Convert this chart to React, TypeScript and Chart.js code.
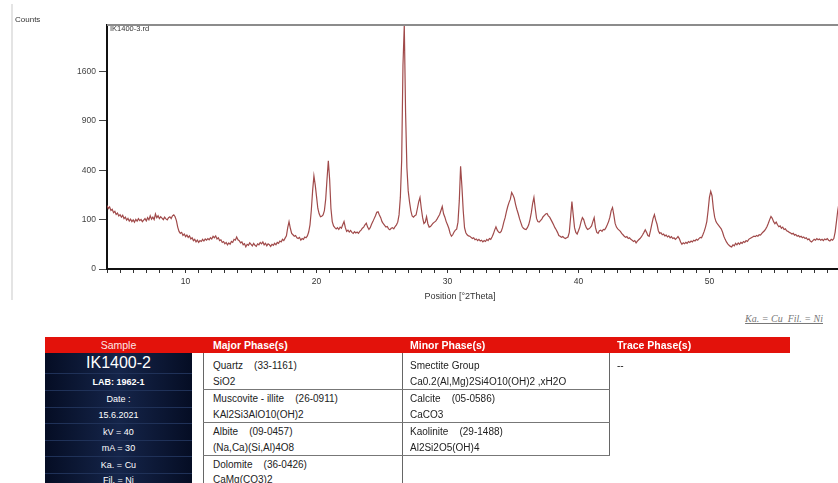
import React, { useEffect, useRef } from 'react';
import { Chart, registerables, LinearScale } from 'chart.js';

Chart.register(...registerables);

// Square-root intensity axis (as used by XRD software)
class SqrtScale extends LinearScale {
  static id = 'sqrt';
  static defaults = {};
  getPixelForValue(value: number) {
    const lo = Math.sqrt(Math.max(0, this.min));
    const hi = Math.sqrt(Math.max(0, this.max));
    const v = Math.sqrt(Math.max(0, value));
    return this.getPixelForDecimal((v - lo) / (hi - lo));
  }
  getValueForPixel(pixel: number) {
    const lo = Math.sqrt(Math.max(0, this.min));
    const hi = Math.sqrt(Math.max(0, this.max));
    const s = lo + this.getDecimalForPixel(pixel) * (hi - lo);
    return s * s;
  }
}
Chart.register(SqrtScale as any);

// Scan parameters (°2Theta)
const scanStart = 4.0;
const scanStep = 0.1;
const xMin = 4.0;
const xMax = 60.2;
const yMax = 2440;
const yTicks = [0, 100, 400, 900, 1600];
const xLabelEvery = 10;

// Counts, one per scan step from 4.0° to 60.2°
const counts = [
  165, 150, 158, 140, 146, 130, 136, 122, 128, 115,
  121, 110, 118, 104, 110, 98, 105, 94, 102, 92,
  99, 90, 101, 94, 104, 96, 101, 92, 98, 104,
  95, 108, 99, 116, 102, 110, 100, 124, 108, 116,
  104, 112, 106, 100, 110, 103, 99, 108, 112, 104,
  116, 120, 112, 96, 72, 58, 52, 55, 46, 50,
  43, 47, 41, 45, 37, 40, 33, 36, 30, 34,
  29, 33, 31, 36, 32, 37, 34, 38, 35, 40,
  37, 44, 40, 45, 37, 40, 33, 35, 29, 31,
  26, 29, 24, 28, 25, 31, 29, 36, 34, 42,
  35, 33, 28, 30, 24, 26, 20, 25, 23, 28,
  25, 22, 27, 23, 21, 26, 24, 29, 26, 30,
  24, 27, 22, 26, 24, 21, 25, 23, 27, 24,
  29, 27, 32, 30, 36, 33, 39, 45, 70, 92,
  68, 52, 48, 44, 46, 40, 38, 41, 34, 38,
  36, 42, 40, 45, 56, 80, 140, 250, 355, 290,
  215, 150, 125, 112, 114, 120, 140, 200, 330, 480,
  330, 150, 92, 76, 70, 66, 70, 64, 72, 68,
  80, 92, 70, 58, 62, 56, 61, 55, 52, 57,
  53, 56, 52, 58, 62, 68, 72, 80, 86, 72,
  64, 70, 82, 92, 104, 116, 132, 134, 120, 108,
  92, 84, 78, 72, 74, 66, 63, 68, 70, 66,
  74, 80, 90, 120, 210, 480, 1700, 2440, 1000, 420,
  250, 185, 140, 115, 110, 116, 120, 150, 185, 210,
  150, 108, 85, 90, 112, 84, 72, 74, 80, 86,
  90, 94, 102, 112, 122, 140, 160, 125, 110, 92,
  80, 68, 52, 44, 48, 56, 62, 65, 90, 190,
  433, 280, 140, 70, 54, 48, 45, 44, 41, 38,
  40, 35, 37, 33, 36, 32, 34, 30, 33, 31,
  36, 33, 38, 36, 42, 50, 62, 73, 62, 56,
  54, 58, 70, 90, 108, 135, 160, 182, 200, 240,
  225, 205, 170, 145, 125, 104, 88, 74, 68, 65,
  64, 70, 80, 100, 130, 175, 210, 150, 105, 92,
  90, 96, 102, 112, 118, 124, 126, 116, 110, 100,
  90, 80, 70, 63, 55, 46, 44, 41, 43, 40,
  38, 40, 42, 55, 110, 187, 120, 70, 55, 50,
  60, 72, 92, 108, 100, 82, 70, 64, 66, 70,
  76, 92, 108, 70, 55, 52, 60, 62, 58, 64,
  63, 70, 80, 92, 110, 140, 155, 120, 85, 72,
  66, 62, 58, 52, 48, 44, 41, 43, 38, 40,
  36, 34, 31, 33, 28, 32, 35, 38, 42, 48,
  55, 63, 55, 46, 44, 60, 82, 105, 121, 98,
  82, 60, 52, 54, 48, 50, 45, 47, 42, 45,
  40, 43, 38, 40, 36, 39, 43, 38, 30, 25,
  28, 26, 29, 27, 31, 29, 32, 30, 34, 32,
  36, 34, 38, 41, 40, 48, 58, 72, 92, 140,
  210, 247, 220, 150, 110, 92, 84, 78, 72, 66,
  56, 44, 36, 30, 26, 23, 21, 20, 24, 22,
  27, 24, 28, 25, 29, 27, 31, 29, 33, 31,
  36, 38, 40, 42, 44, 43, 46, 44, 48, 47,
  52, 56, 60, 66, 74, 86, 100, 113, 105, 92,
  84, 90, 80, 73, 76, 68, 72, 64, 66, 60,
  58, 55, 53, 50, 52, 47, 49, 44, 46, 42,
  44, 40, 42, 38, 40, 35, 37, 32, 30, 33,
  36, 34, 38, 35, 37, 34, 36, 33, 37, 35,
  38, 34, 32, 36, 34, 38, 56, 92, 140, 180,
  200, 160, 120,
];

// Table content
const sampleInfo = ['LAB: 1962-1', 'Date :', '15.6.2021', 'kV = 40', 'mA = 30', 'Ka. = Cu', 'Fil. = Ni'];
const majorPhases = [
  ['Quartz    (33-1161)', 'SiO2'],
  ['Muscovite - illite    (26-0911)', 'KAl2Si3AlO10(OH)2'],
  ['Albite    (09-0457)', '(Na,Ca)(Si,Al)4O8'],
  ['Dolomite    (36-0426)', 'CaMg(CO3)2'],
];
const minorPhases = [
  ['Smectite Group', 'Ca0.2(Al,Mg)2Si4O10(OH)2 ,xH2O'],
  ['Calcite    (05-0586)', 'CaCO3'],
  ['Kaolinite    (29-1488)', 'Al2Si2O5(OH)4'],
];
const tracePhases = ['--'];

const FONT = 'Arial, "Liberation Sans", sans-serif';

const frameTop = {
  id: 'frameTop',
  afterDraw(chart: any) {
    const { ctx, chartArea: a } = chart;
    ctx.save();
    ctx.strokeStyle = '#8c8c8c';
    ctx.lineWidth = 2;
    ctx.beginPath();
    ctx.moveTo(a.left, a.top);
    ctx.lineTo(a.right + 60, a.top);
    ctx.stroke();
    ctx.restore();
  },
};

function XrdChart() {
  const ref = useRef<HTMLCanvasElement | null>(null);
  useEffect(() => {
    if (!ref.current) return;
    const points = counts.map((c, i) => ({ x: +(scanStart + i * scanStep).toFixed(2), y: c }));
    const chart = new Chart(ref.current, {
      type: 'line',
      data: {
        datasets: [
          {
            data: points,
            borderColor: '#a04a4a',
            borderWidth: 1.2,
            pointRadius: 0,
            tension: 0,
            fill: false,
          },
        ],
      },
      options: {
        animation: false,
        responsive: false,
        layout: { padding: { top: 25, right: 57, bottom: 0, left: 0 } },
        plugins: { legend: { display: false }, tooltip: { enabled: false }, title: { display: false } },
        scales: {
          x: {
            type: 'linear',
            min: xMin,
            max: xMax,
            ticks: {
              stepSize: 1,
              autoSkip: false,
              maxRotation: 0,
              padding: 4,
              color: '#333',
              font: { size: 8.5, family: FONT },
              callback: (v: any) => (Math.abs(v % xLabelEvery) < 1e-6 ? String(v) : ''),
            },
            grid: { drawOnChartArea: false, drawTicks: true, tickLength: 4, tickColor: '#333', color: '#333' },
            border: { color: '#111', width: 2 },
            afterFit: (s: any) => {
              s.height = 36;
            },
          },
          y: {
            type: 'sqrt' as any,
            min: 0,
            max: yMax,
            afterBuildTicks: (s: any) => {
              s.ticks = yTicks.map((v) => ({ value: v }));
            },
            ticks: {
              padding: 3,
              color: '#444',
              font: { size: 8.5, family: FONT },
              callback: (v: any) => String(v),
            },
            grid: { drawOnChartArea: false, drawTicks: true, tickLength: 8, tickColor: '#444', color: '#444' },
            border: { color: '#111', width: 2 },
            afterFit: (s: any) => {
              s.width = 107;
            },
          },
        },
      } as any,
      plugins: [frameTop],
    });
    return () => chart.destroy();
  }, []);
  return (
    <canvas
      ref={ref}
      width={900}
      height={305}
      style={{ position: 'absolute', left: 0, top: 0, width: 900, height: 305, display: 'block' }}
    />
  );
}

function T({ x, y, children, style }: { x: number; y: number; children: any; style?: any }) {
  return (
    <div
      style={{
        position: 'absolute',
        left: x,
        top: y,
        transform: 'translateY(-50%)',
        whiteSpace: 'pre',
        fontFamily: FONT,
        fontSize: 10,
        lineHeight: '12px',
        color: '#222',
        ...style,
      }}
    >
      {children}
    </div>
  );
}

function Line({ x, y, w, h, c = '#777' }: { x: number; y: number; w: number; h: number; c?: string }) {
  return <div style={{ position: 'absolute', left: x, top: y, width: w, height: h, background: c }} />;
}

export default function App() {
  const rowY = [366, 382, 399, 415, 432, 448, 465, 480];
  const sampleY = [382, 399, 415, 432, 448, 465, 480];
  return (
    <div
      style={{
        position: 'absolute',
        left: 0,
        top: 0,
        width: 838,
        height: 483,
        overflow: 'hidden',
        background: '#fff',
        fontFamily: FONT,
      }}
    >
      <Line x={11} y={4} w={2} h={296} c="#e4e4e4" />
      <XrdChart />
      <T x={15} y={20} style={{ fontSize: 8, color: '#333' }}>Counts</T>
      <T x={110} y={29} style={{ fontSize: 7.5, color: '#333' }}>IK1400-3.rd</T>
      <div
        style={{
          position: 'absolute',
          left: 360,
          width: 200,
          top: 290,
          textAlign: 'center',
          fontSize: 9,
          lineHeight: '12px',
          color: '#333',
          fontFamily: FONT,
        }}
      >
        Position [°2Theta]
      </div>

      <div
        style={{
          position: 'absolute',
          right: 15,
          top: 313,
          fontFamily: '"Liberation Serif", "DejaVu Serif", serif',
          fontStyle: 'italic',
          fontSize: 10,
          color: '#777',
          textDecoration: 'underline',
          whiteSpace: 'pre',
        }}
      >
        {'Ka. = Cu  Fil. = Ni'}
      </div>

      {/* header bar */}
      <div style={{ position: 'absolute', left: 45, top: 337, width: 745, height: 16, background: '#e3120b' }} />
      <div
        style={{
          position: 'absolute',
          left: 45,
          top: 337,
          width: 147,
          height: 16,
          textAlign: 'center',
          color: '#fde6e6',
          fontSize: 10.5,
          lineHeight: '16px',
        }}
      >
        Sample
      </div>
      <T x={213} y={345} style={{ color: '#fff', fontWeight: 'bold', fontSize: 10.5 }}>Major Phase(s)</T>
      <T x={410} y={345} style={{ color: '#fff', fontWeight: 'bold', fontSize: 10.5 }}>Minor Phase(s)</T>
      <T x={617} y={345} style={{ color: '#fff', fontWeight: 'bold', fontSize: 10.5 }}>Trace Phase(s)</T>

      {/* sample panel */}
      <div
        style={{
          position: 'absolute',
          left: 45,
          top: 353,
          width: 147,
          height: 140,
          background: 'linear-gradient(to right, #050d24 0%, #15254a 50%, #050d24 100%)',
        }}
      />
      {[373, 390, 407, 423, 440, 456, 473].map((y) => (
        <Line key={y} x={45} y={y} w={147} h={1} c="#1f3158" />
      ))}
      <div
        style={{
          position: 'absolute',
          left: 45,
          width: 147,
          top: 354,
          textAlign: 'center',
          color: '#fff',
          fontSize: 16,
          lineHeight: '18px',
          fontFamily: FONT,
        }}
      >
        IK1400-2
      </div>
      {sampleInfo.map((s, i) => (
        <div
          key={s}
          style={{
            position: 'absolute',
            left: 45,
            width: 147,
            top: sampleY[i] - 6,
            textAlign: 'center',
            color: '#fff',
            fontSize: 9,
            lineHeight: '12px',
            fontWeight: i === 0 ? 'bold' : 'normal',
            fontFamily: FONT,
          }}
        >
          {s}
        </div>
      ))}

      {/* grid lines */}
      <Line x={203} y={353} w={1} h={130} c="#666" />
      <Line x={402} y={353} w={1} h={130} c="#666" />
      <Line x={609} y={353} w={1} h={102} c="#666" />
      {[389, 422, 455].map((y) => (
        <Line key={y} x={203} y={y} w={407} h={1} c="#777" />
      ))}

      {majorPhases.map((p, i) => (
        <React.Fragment key={p[0]}>
          <T x={213} y={rowY[i * 2]}>{p[0]}</T>
          <T x={213} y={rowY[i * 2 + 1]}>{p[1]}</T>
        </React.Fragment>
      ))}
      {minorPhases.map((p, i) => (
        <React.Fragment key={p[0]}>
          <T x={410} y={rowY[i * 2]}>{p[0]}</T>
          <T x={410} y={rowY[i * 2 + 1]}>{p[1]}</T>
        </React.Fragment>
      ))}
      {tracePhases.map((p, i) => (
        <T key={p} x={617} y={rowY[i * 2]}>{p}</T>
      ))}
    </div>
  );
}
